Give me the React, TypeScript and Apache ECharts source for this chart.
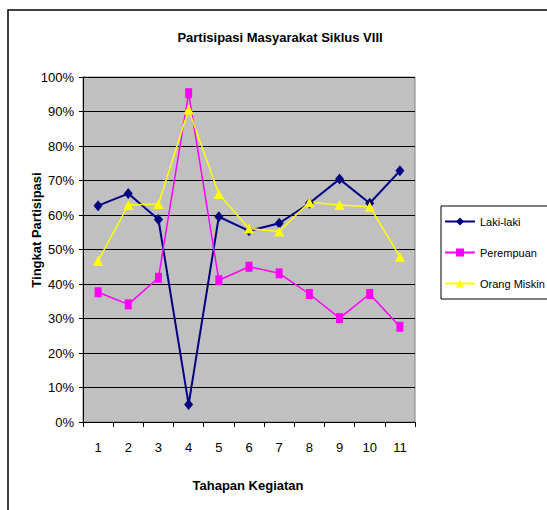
import React, { useEffect, useRef } from "react";
import * as echarts from "echarts";

const categories = ["1", "2", "3", "4", "5", "6", "7", "8", "9", "10", "11"];
const lakiLaki = [62.7, 66.2, 58.7, 5.1, 59.5, 55.4, 57.6, 63.4, 70.4, 63.4, 72.8];
const perempuan = [37.6, 34.1, 41.8, 95.3, 41.1, 45.0, 43.1, 37.1, 30.1, 37.1, 27.6];
const orangMiskin = [46.7, 62.9, 63.2, 90.6, 66.1, 56.1, 55.2, 63.7, 62.9, 62.4, 47.9];
const seriesNames = ["Laki-laki", "Perempuan", "Orang Miskin"];
const chartTitle = "Partisipasi Masyarakat Siklus VIII";
const xTitle = "Tahapan Kegiatan";
const yTitle = "Tingkat Partisipasi";

const FONT = "Arial, 'Liberation Sans', sans-serif";

export default function App() {
  const ref = useRef<HTMLDivElement>(null);
  useEffect(() => {
    if (!ref.current) return;
    const chart = echarts.init(ref.current, null, { renderer: "svg" });
    chart.setOption({
      animation: false,
      backgroundColor: "#ffffff",
      grid: {
        left: 83,
        top: 77,
        right: 132,
        bottom: 88,
        show: true,
        backgroundColor: "#C0C0C0",
        borderColor: "#808080",
        borderWidth: 1,
      },
      graphic: [
        {
          type: "rect",
          shape: { x: 8, y: 10, width: 700, height: 700 },
          style: { fill: "none", stroke: "#000", lineWidth: 1.5 },
          silent: true,
          z: -1,
        },
        {
          type: "text",
          x: 280,
          y: 37,
          style: {
            text: chartTitle,
            font: `bold 13px ${FONT}`,
            fill: "#000",
            align: "center",
            verticalAlign: "middle",
          },
        },
        {
          type: "text",
          x: 248,
          y: 485,
          style: {
            text: xTitle,
            font: `bold 13px ${FONT}`,
            fill: "#000",
            align: "center",
            verticalAlign: "middle",
          },
        },
        {
          type: "text",
          x: 36,
          y: 230,
          rotation: Math.PI / 2,
          style: {
            text: yTitle,
            font: `bold 13px ${FONT}`,
            fill: "#000",
            align: "center",
            verticalAlign: "middle",
          },
        },
      ],
      legend: {
        orient: "vertical",
        left: 441,
        top: 206,
        itemWidth: 30,
        itemHeight: 10,
        itemGap: 20,
        padding: [10, 60, 10, 3],
        borderColor: "#000",
        borderWidth: 1,
        backgroundColor: "#fff",
        textStyle: { fontFamily: FONT, fontSize: 11, color: "#000" },
        data: seriesNames,
      },
      xAxis: {
        type: "category",
        data: categories,
        boundaryGap: true,
        axisLine: { lineStyle: { color: "#000", width: 1 } },
        axisTick: { show: true, length: 5, lineStyle: { color: "#000" } },
        axisLabel: { fontFamily: FONT, fontSize: 13, color: "#000", margin: 19 },
        splitLine: { show: false },
      },
      yAxis: {
        type: "value",
        min: 0,
        max: 100,
        interval: 10,
        axisLine: { show: true, lineStyle: { color: "#000", width: 1 } },
        axisTick: { show: true, length: 4, lineStyle: { color: "#000" } },
        axisLabel: {
          fontFamily: FONT,
          fontSize: 13,
          color: "#000",
          margin: 9,
          formatter: "{value}%",
        },
        splitLine: { show: true, lineStyle: { color: "#000", width: 1 } },
      },
      series: [
        {
          name: seriesNames[0],
          type: "line",
          data: lakiLaki,
          symbol: "diamond",
          symbolSize: [9, 11],
          itemStyle: { color: "#000080" },
          lineStyle: { color: "#000080", width: 2 },
        },
        {
          name: seriesNames[1],
          type: "line",
          data: perempuan,
          symbol: "rect",
          symbolSize: [7, 10],
          itemStyle: { color: "#FF00FF" },
          lineStyle: { color: "#FF00FF", width: 1.5 },
        },
        {
          name: seriesNames[2],
          type: "line",
          data: orangMiskin,
          symbol: "triangle",
          symbolSize: [10, 10],
          itemStyle: { color: "#FFFF00" },
          lineStyle: { color: "#FFFF00", width: 1.5 },
        },
      ],
    });
    return () => chart.dispose();
  }, []);
  return (
    <div
      ref={ref}
      style={{ position: "fixed", left: 0, top: 0, width: 547, height: 510 }}
    />
  );
}
